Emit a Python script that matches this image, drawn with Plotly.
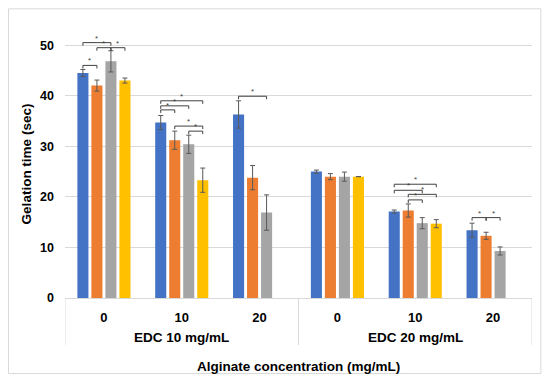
import plotly.graph_objects as go

# ---- data ----
edc_groups = ["EDC 10 mg/mL", "EDC 20 mg/mL"]
alginate = ["0", "10", "20", "0", "10", "20"]
positions = list(range(len(alginate)))

series_names = ["A", "B", "C", "D"]
series_colors = ["#4472C4", "#ED7D31", "#A5A5A5", "#FFC000"]

vals_a = [44.5, 34.7, 36.3, 25.0, 17.1, 13.4]
vals_b = [42.0, 31.2, 23.8, 24.0, 17.3, 12.3]
vals_c = [46.8, 30.4, 16.9, 24.0, 14.8, 9.3]
vals_d = [43.0, 23.3, None, 24.0, 14.7, None]

err_a = [0.7, 1.4, 2.7, 0.3, 0.3, 1.4]
err_b = [1.1, 1.8, 2.4, 0.6, 1.3, 0.7]
err_c = [2.1, 1.8, 3.5, 0.9, 1.1, 0.8]
err_d = [0.5, 2.4, None, 0.0, 0.8, None]

values = [vals_a, vals_b, vals_c, vals_d]
errors = [err_a, err_b, err_c, err_d]

# significance brackets: (category index, bar i, bar j, level)
brackets = [
    (0, 0, 1, 46.0), (0, 0, 2, 50.5), (0, 1, 2, 49.5), (0, 2, 3, 49.5),
    (1, 0, 1, 37.2), (1, 0, 2, 38.0), (1, 0, 3, 39.0), (1, 1, 3, 34.0), (1, 2, 3, 33.0),
    (2, 0, 2, 39.9),
    (4, 0, 3, 22.5), (4, 0, 2, 21.3), (4, 1, 3, 20.5), (4, 1, 2, 19.4),
    (5, 0, 1, 15.9), (5, 1, 2, 15.9),
]

# ---- figure ----
fig = go.Figure()
for name, color, v, e in zip(series_names, series_colors, values, errors):
    fig.add_trace(go.Bar(
        x=positions, y=v, name=name,
        marker=dict(color=color, line=dict(width=0)),
        error_y=dict(type="data", array=e, visible=True,
                     color="#595959", thickness=1, width=2.5),
    ))

bargap = 0.28
slot = (1 - bargap) / 4

def bold(size):
    return dict(size=size, weight="bold", family="Arial", color="#000000")

GRID = "#D9D9D9"

shapes = []
annotations = []
drop = 0.6
for k, i, j, lvl in brackets:
    x1 = k + (i - 1.5) * slot
    x2 = k + (j - 1.5) * slot
    shapes.append(dict(
        type="path", xref="x", yref="y",
        path=f"M {x1},{lvl - drop} L {x1},{lvl} L {x2},{lvl} L {x2},{lvl - drop}",
        line=dict(color="#404040", width=1),
    ))
    annotations.append(dict(
        x=(x1 + x2) / 2, y=lvl, xref="x", yref="y", text="*",
        showarrow=False, yanchor="bottom", yshift=-2,
        font=dict(size=8, color="#404040", family="Arial"),
    ))

# group dividers below the axis and group labels
n_per_group = len(alginate) // len(edc_groups)
for g, label in enumerate(edc_groups):
    annotations.append(dict(
        x=g * n_per_group + (n_per_group - 1) / 2, y=-0.149,
        xref="x", yref="paper", text=label, showarrow=False,
        yanchor="middle", font=bold(13.5),
    ))
for b in range(len(edc_groups) + 1):
    shapes.append(dict(
        type="line", xref="x", yref="paper",
        x0=b * n_per_group - 0.5, x1=b * n_per_group - 0.5, y0=0, y1=-0.175,
        line=dict(color=GRID, width=1),
    ))

# x-axis title
annotations.append(dict(
    x=0.5, y=-0.254, xref="paper", yref="paper",
    text="Alginate concentration (mg/mL)", showarrow=False,
    yanchor="middle", font=bold(13.5),
))

# outer chart border
shapes.append(dict(
    type="rect", xref="paper", yref="paper",
    x0=-0.121, x1=1.019, y0=-0.282, y1=1.079,
    line=dict(color=GRID, width=1), fillcolor="rgba(0,0,0,0)", layer="below",
))

fig.update_layout(
    width=534, height=367,
    margin=dict(l=57, r=10, t=22, b=77),
    paper_bgcolor="white", plot_bgcolor="white",
    barmode="group", bargap=bargap, bargroupgap=0.21,
    showlegend=False,
    font=dict(family="Arial", color="#000000"),
    shapes=shapes, annotations=annotations,
)
fig.update_xaxes(
    range=[-0.5, len(alginate) - 0.5],
    tickvals=positions, ticktext=alginate,
    showgrid=False, showline=True, linecolor=GRID, linewidth=1,
    zeroline=False, ticks="", ticklabelstandoff=7, automargin=False,
    tickfont=bold(13),
)
fig.update_yaxes(
    range=[0, 53], tickvals=[0, 10, 20, 30, 40, 50],
    showgrid=True, gridcolor=GRID, gridwidth=1, zeroline=False,
    showline=False, ticks="", ticklabelstandoff=10, automargin=False,
    tickfont=bold(12.5),
    title=dict(text="Gelation time (sec)", font=bold(13.5), standoff=5),
)

fig.write_html("out.html")
